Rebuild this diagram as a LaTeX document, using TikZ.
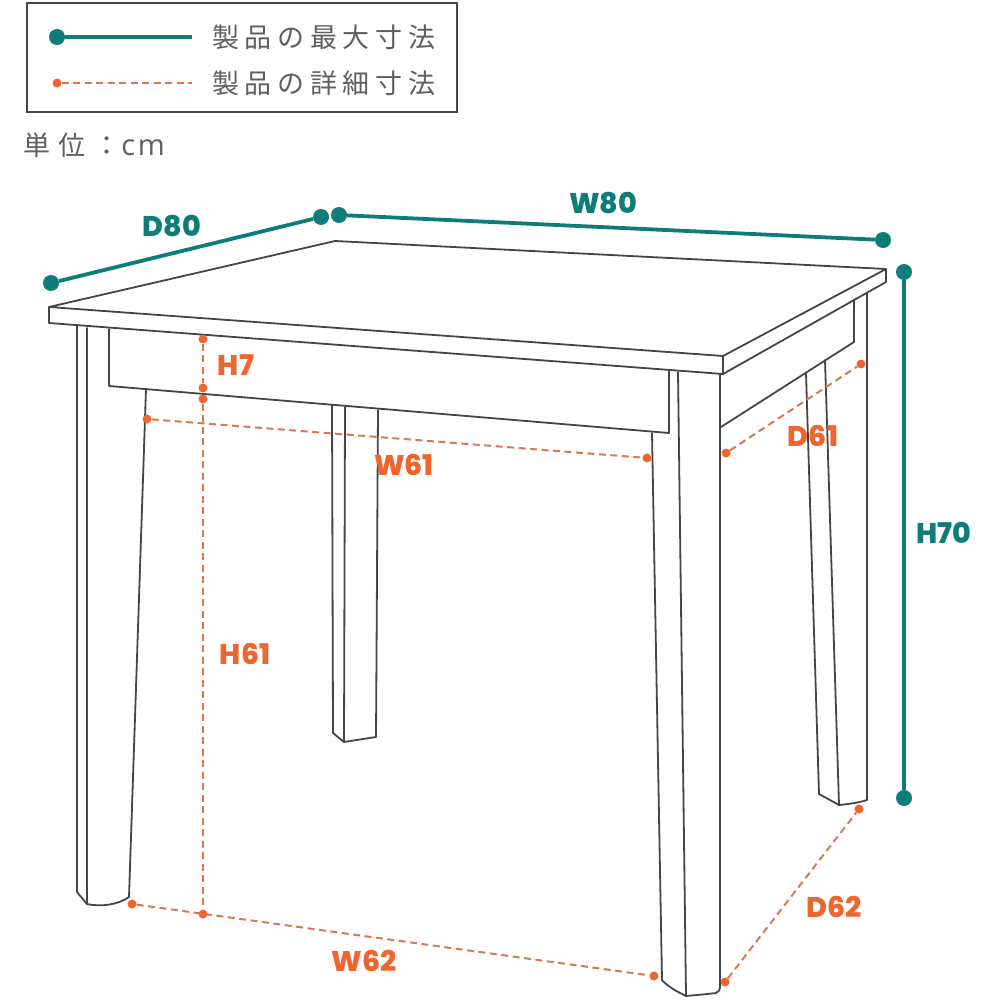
\documentclass[tikz,border=0pt]{standalone}
\usepackage{fontspec}
\setmainfont{DejaVu Sans}
\newfontfamily\jpfont[LetterSpace=21]{Noto Sans CJK JP}
\newfontfamily\unitjp[LetterSpace=30]{Noto Sans CJK JP}
\newfontfamily\unitfont[LetterSpace=9]{Open Sans}
\newfontfamily\labfont{Poppins ExtraBold}
\definecolor{tealc}{HTML}{0E7C78}
\definecolor{orangec}{HTML}{EE6530}
\definecolor{dashc}{HTML}{DC7550}
\definecolor{linec}{HTML}{454545}
\definecolor{greytext}{HTML}{5F5F5F}
\tikzset{
  furn/.style={draw=linec,line width=1.8pt,line join=round,line cap=round},
  maxdot/.style={circle,fill=tealc,inner sep=0pt,minimum size=16pt},
  detdot/.style={circle,fill=orangec,inner sep=0pt,minimum size=9pt},
  maxline/.style={draw=tealc,line width=3.8pt},
  detline/.style={draw=dashc,line width=2pt,dash pattern=on 7pt off 4.5pt},
  maxlabel/.style={text=tealc,font=\fontsize{28.5}{28.5}\selectfont\labfont,inner sep=0pt},
  detlabel/.style={text=orangec,font=\fontsize{28.5}{28.5}\selectfont\labfont,inner sep=0pt},
  legtext/.style={text=greytext,font=\fontsize{27}{27}\selectfont\jpfont,anchor=west,inner sep=0pt},
  legbox/.style={draw=linec,line width=1.8pt}
}
\begin{document}
\begin{tikzpicture}[x=1pt,y=-1pt]
\useasboundingbox (0,0) rectangle (1000,1000);
% legend
\draw[legbox] (27,3) rectangle (457,112);
\node[maxdot] (lg1a) at (57,37) {};
\coordinate (lg1b) at (192,37);
\draw[maxline,line width=3.2pt] (lg1a) -- (lg1b);
\node[detdot] (lg2a) at (57,83) {};
\coordinate (lg2b) at (192,83);
\draw[detline] (lg2a) -- (lg2b);
\node[legtext] (lt1) at (212,37) {製品の最大寸法};
\node[legtext] (lt2) at (212,83) {製品の詳細寸法};
\node[text=greytext,anchor=west,inner sep=0pt,font=\fontsize{27}{27}\selectfont\unitjp] (unit) at (23,145) {単位：\hspace{1pt}\fontsize{29}{29}\selectfont\unitfont cm};
% table top
\draw[furn] (49,307) -- (335,241) -- (886,269) -- (723,356) -- cycle;
\draw[furn] (49,307) -- (49,323) -- (723,374) -- (723,356);
\draw[furn] (723,374) -- (886,282) -- (886,269);
% front apron
\draw[furn] (109,329) -- (109,386) -- (669,433) -- (669,370);
% side apron
\draw[furn] (721,427) -- (854,342) -- (854,300);
% front-left leg
\draw[furn] (77,326) -- (77,892) -- (87,904) .. controls (100,907) and (118,905) .. (129,897) -- (146,389);
\draw[furn] (87,328) -- (87,904);
% back-left leg
\draw[furn] (332,405) -- (333,733) -- (344,742) -- (376,737) -- (378,410);
\draw[furn] (345,407) -- (344,742);
% front-right leg
\draw[furn] (652,433) -- (662,980) .. controls (668,987) and (678,992) .. (686,996) .. controls (697,995) and (708,994) .. (716,993) .. controls (719,992) and (720,990) .. (720,985) -- (720,374);
\draw[furn] (678,372) -- (686,996);
% back-right leg
\draw[furn] (806,373) -- (819,794) -- (839,805) .. controls (848,804) and (858,803) .. (867,800) -- (867,293);
\draw[furn] (825,360) -- (839,805);
% maximum dimensions
\node[maxdot] (d80a) at (51,283) {};
\node[maxdot] (d80b) at (321,217) {};
\draw[maxline] (d80a) -- (d80b);
\node[maxdot] (w80a) at (339,215) {};
\node[maxdot] (w80b) at (883,240) {};
\draw[maxline] (w80a) -- (w80b);
\node[maxdot] (h70a) at (904,272) {};
\node[maxdot] (h70b) at (904,798) {};
\draw[maxline] (h70a) -- (h70b);
\node[maxlabel] (ld80) at (172,226) {D80};
\node[maxlabel] (lw80) at (603,203) {W80};
\node[maxlabel] (lh70) at (944,533) {H70};
% detail dimensions
\node[detdot] (h7a) at (203,339) {};
\node[detdot] (h7b) at (203,388) {};
\draw[detline] (h7a) -- (h7b);
\node[detdot] (h61a) at (203,399) {};
\node[detdot] (h61b) at (203,914) {};
\draw[detline] (h61a) -- (h61b);
\node[detdot] (w61a) at (147,419) {};
\node[detdot] (w61b) at (647,458) {};
\draw[detline] (w61a) -- (w61b);
\node[detdot] (d61a) at (726,453) {};
\node[detdot] (d61b) at (861,364) {};
\draw[detline] (d61a) -- (d61b);
\node[detdot] (w62a) at (132,904) {};
\node[detdot] (w62b) at (654,976) {};
\draw[detline] (w62a) -- (w62b);
\node[detdot] (d62a) at (725,982) {};
\node[detdot] (d62b) at (859,809) {};
\draw[detline] (d62a) -- (d62b);
\node[detlabel] (lh7) at (236,365) {H7};
\node[detlabel] (lw61) at (404,465) {W61};
\node[detlabel] (ld61) at (813,436) {D61};
\node[detlabel] (lh61) at (245,654) {H61};
\node[detlabel] (ld62) at (834,907) {D62};
\node[detlabel] (lw62) at (364,961) {W62};
\end{tikzpicture}
\end{document}
